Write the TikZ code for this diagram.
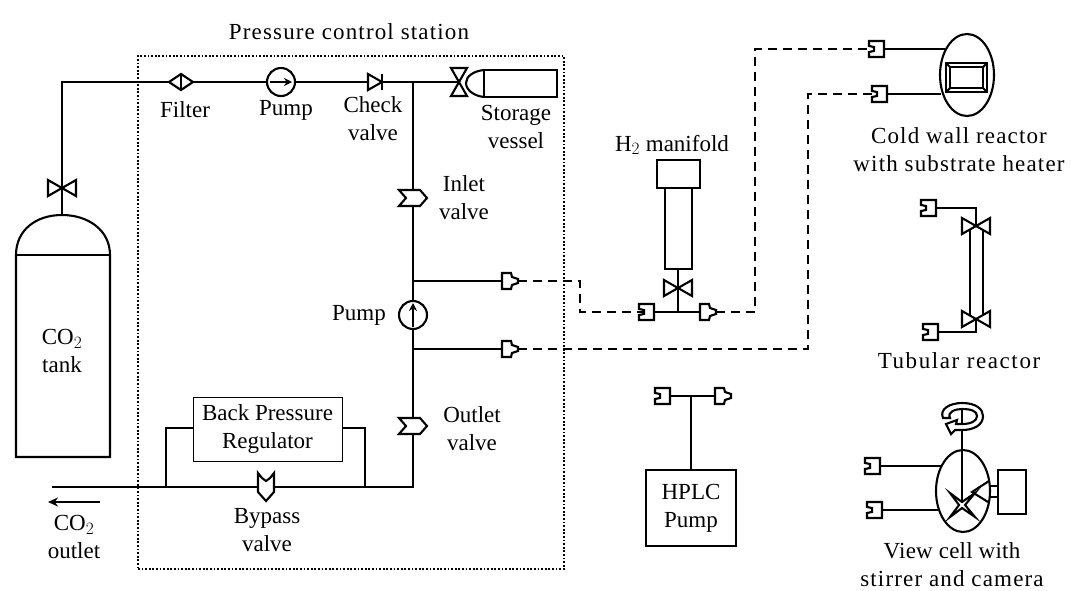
\documentclass[tikz,border=0pt]{standalone}
\usepackage{fontspec}
\setmainfont{Liberation Serif}
\usetikzlibrary{arrows.meta,shapes.geometric}
\tikzset{
  pipe/.style={line width=2.1pt},
  hose/.style={line width=2.1pt, dash pattern=on 9pt off 6pt},
  txt/.style={font=\fontsize{23}{28}\selectfont, inner sep=0pt, align=center},
  txtwide/.style={font=\fontsize{23}{28}\selectfont\addfontfeatures{LetterSpace=5}, inner sep=0pt, align=center},
  part/.style={line width=2.1pt, fill=white, line join=miter},
  socket/.pic={\draw[part] (-8,-8) -- (7,-8) -- (7,8) -- (-8,8) -- (-8,3) -- (-3,2) -- (-3,-2) -- (-8,-3) -- cycle;},
  plug/.pic={\draw[part] (-8,-8) -- (1,-8) -- (2,-4) -- (8,-2) -- (8,2) -- (2,4) -- (1,8) -- (-8,8) -- cycle;},
  bowtieh/.pic={\draw[part] (-14,-8) -- (14,8) -- (14,-8) -- (-14,8) -- cycle;},
  bowtiev/.pic={\draw[part] (-8,-14) -- (8,14) -- (-8,14) -- (8,-14) -- cycle;},
  chevron/.pic={\draw[part] (-14,-8) -- (7,-8) -- (14,0) -- (7,8) -- (-14,8) -- (-7,0) -- cycle;},
}
\begin{document}
\begin{tikzpicture}[x=1pt, y=-1pt]
\useasboundingbox (0,0) rectangle (1071,590);
% control station
\node[draw, line width=2pt, dash pattern=on 1.8pt off 1.8pt, minimum width=426pt, minimum height=513pt, anchor=north west] (station) at (137,55) {};
\node[txtwide] (stationlabel) at (349,32) {Pressure control station};
% tank
\coordinate (tankvalve) at (62,188);
\coordinate (tanktop) at (62,215);
\coordinate (corner) at (62,82);
\coordinate (junction) at (413,82);
\coordinate (vesselvalve) at (459,82);
\draw[pipe] (tanktop) -- (corner) -- (vesselvalve);
\draw[pipe] (16,457) -- (110,457) -- (110,255) .. controls (110,230) and (88,215) .. (tanktop) .. controls (36,215) and (16,230) .. (16,255) -- cycle;
\draw[pipe] (16,255) -- (110,255);
\pic at (tankvalve) {bowtieh};
\node[txt] (tanklabel) at (62,351) {CO$_2$\\tank};
% top line
\coordinate (filter) at (181,82);
\draw[part] (169,82) -- (181,74) -- (193,82) -- (181,90) -- cycle;
\draw[pipe] (181,74) -- (181,90);
\node[draw, circle, line width=2.1pt, fill=white, minimum size=28pt, inner sep=0pt] (toppump) at (281,82) {};
\draw[pipe, -{Stealth[length=8pt,width=8pt]}] (270,82) -- (292,82);
\draw[part] (368,74) -- (382,82) -- (368,90) -- cycle;
\draw[pipe] (382,74) -- (382,90);
\node[txt] (filterlabel) at (185,110) {Filter};
\node[txt] (toppumplabel) at (286,110) {Pump};
\node[txt] (checklabel) at (373,119) {Check\\valve};
% storage vessel
\pic at (vesselvalve) {bowtiev};
\draw[pipe] (484,70) rectangle (557,97);
\draw[pipe] (484,70) .. controls (474,71) and (466,76) .. (466,83) .. controls (466,90) and (474,96) .. (484,97);
\node[txt] (vessellabel) at (516,127) {Storage\\vessel};
% main riser
\coordinate (riserfoot) at (413,487);
\coordinate (upperbranch) at (413,281);
\coordinate (lowerbranch) at (413,349);
\draw[pipe] (junction) -- (riserfoot) -- (52,487);
\pic at (413,198) {chevron};
\pic at (413,426) {chevron};
\node[txt] (inletlabel) at (464,198) {Inlet\\valve};
\node[txt] (outletlabel) at (472,429) {Outlet\\valve};
\node[draw, circle, line width=2.1pt, fill=white, minimum size=28pt, inner sep=0pt] (midpump) at (413,315) {};
\draw[pipe, -{Stealth[length=8pt,width=8pt]}] (413,327) -- (413,303);
\node[txt] (midpumplabel) at (359,315) {Pump};
% branches and hoses
\coordinate (upperplug) at (510,281);
\coordinate (lowerplug) at (510,349);
\draw[pipe] (upperbranch) -- (upperplug);
\draw[pipe] (lowerbranch) -- (lowerplug);
\pic at (upperplug) {plug};
\pic at (lowerplug) {plug};
\coordinate (manifoldsocket) at (647,312);
\coordinate (manifoldplug) at (708,312);
\coordinate (coldupper) at (877,49);
\coordinate (coldlower) at (880,94);
\draw[hose] (518,281) -- (580,281) -- (580,312) -- (manifoldsocket);
\draw[hose] (716,312) -- (755,312) -- (755,49) -- (coldupper);
\draw[hose] (518,349) -- (808,349) -- (808,94) -- (coldlower);
% bpr
\node[draw, line width=1pt, fill=white, minimum width=149pt, minimum height=64pt, inner sep=0pt, txt] (bpr) at (267.5,429) {Back Pressure\\Regulator};
\draw[pipe] (166,487) -- (166,428) -- (bpr.west |- 0,428);
\draw[pipe] (365,487) -- (365,428) -- (bpr.east |- 0,428);
\draw[part] (258,473) -- (262,478) -- (266,481) -- (270,478) -- (274,473) -- (274,492) -- (266,501) -- (258,492) -- cycle;
\node[txt] (bypasslabel) at (267,530) {Bypass\\valve};
\coordinate (arrowstart) at (100,502);
\coordinate (arrowend) at (48,502);
\draw[pipe, -{Stealth[length=10pt,width=9pt]}] (arrowstart) -- (arrowend);
\node[txt] (outlabel) at (74,537) {CO$_2$\\outlet};
% manifold
\draw[pipe] (657,160) rectangle (700,188);
\draw[pipe] (665,188) rectangle (692,269);
\coordinate (manifoldfoot) at (678,269);
\coordinate (manifoldtee) at (678,312);
\draw[pipe] (manifoldfoot) -- (manifoldtee);
\draw[pipe] (manifoldsocket) -- (manifoldplug);
\pic at (678,288) {bowtieh};
\pic at (manifoldsocket) {socket};
\pic at (manifoldplug) {plug};
\node[txt] (manifoldlabel) at (672,145) {H$_2$ manifold};
% cold wall reactor
\draw[pipe] (coldupper) -- (945,49);
\draw[pipe] (coldlower) -- (941,94);
\node[draw, ellipse, line width=2.1pt, minimum width=54pt, minimum height=82pt, inner sep=0pt] (coldwall) at (967,75) {};
\draw[line width=2.1pt] (946,63) rectangle (987,92);
\draw[line width=2.1pt] (950,67) rectangle (983,88);
\draw[pipe] (946,63) -- (950,67) (987,63) -- (983,67) (946,92) -- (950,88) (987,92) -- (983,88);
\pic at (coldupper) {socket};
\pic at (coldlower) {socket};
\node[txtwide] (coldlabel) at (959,150) {Cold wall reactor\\with substrate heater};
% tubular reactor
\coordinate (tubetop) at (976,226);
\coordinate (tubebottom) at (976,319);
\coordinate (tubesocketa) at (929,208);
\coordinate (tubesocketb) at (931,332);
\draw[pipe] (tubesocketa) -- (976,208) -- (tubetop);
\draw[pipe] (tubesocketb) -- (976,332) -- (tubebottom);
\draw[pipe] (970,226) -- (970,319) (983,226) -- (983,319);
\pic at (tubetop) {bowtieh};
\pic at (tubebottom) {bowtieh};
\pic at (tubesocketa) {socket};
\pic at (tubesocketb) {socket};
\node[txtwide, font=\fontsize{23}{28}\selectfont\addfontfeatures{LetterSpace=7}] (tubelabel) at (959,361) {Tubular reactor};
% hplc
\coordinate (hplcsocket) at (663,396);
\coordinate (hplcplug) at (723,396);
\node[draw, line width=2.1pt, minimum width=90pt, minimum height=76pt, inner sep=0pt, txt] (hplc) at (691,508) {HPLC\\Pump};
\draw[pipe] (hplcsocket) -- (hplcplug);
\draw[pipe] (691,396) -- (hplc.north);
\pic at (hplcsocket) {socket};
\pic at (hplcplug) {plug};
% view cell
\node[draw, ellipse, line width=2.1pt, minimum width=54pt, minimum height=82pt, inner sep=0pt] (cell) at (963,491) {};
\coordinate (cellsocketa) at (873,466);
\coordinate (cellsocketb) at (875,510);
\draw[pipe] (cellsocketa) -- (941,466);
\draw[pipe] (cellsocketb) -- (938,510);
\pic at (cellsocketa) {socket};
\pic at (cellsocketb) {socket};
\draw[pipe] (962,412) -- (962,503);
\draw[part] (950,493) -- (962,502) -- (975,493) -- (965,505) -- (975,517) -- (962,508) -- (950,517) -- (959,505) -- cycle;
\draw[pipe] (990,486) -- (998,486) (998,470) rectangle (1026,514) (998,497) -- (990,497);
\draw[pipe] (989,481) -- (972,492) -- (988,502);
\draw[part] (943,418) .. controls (939,409) and (950,403) .. (962,403) .. controls (976,403) and (983,409) .. (983,416) .. controls (983,425) and (974,430) .. (962,430) -- (955,430) -- (951,434) -- (946,424) -- (957,420) -- (956,424) -- (962,424) .. controls (971,424) and (977,421) .. (977,416) .. controls (977,411) and (971,409) .. (962,409) .. controls (955,409) and (947,412) .. (950,418) -- cycle;
\draw[pipe] (962,409) -- (962,424);
\node[txtwide] (celllabel) at (952,565) {{\addfontfeatures{LetterSpace=1}View cell with}\\stirrer and camera};
\end{tikzpicture}
\end{document}
